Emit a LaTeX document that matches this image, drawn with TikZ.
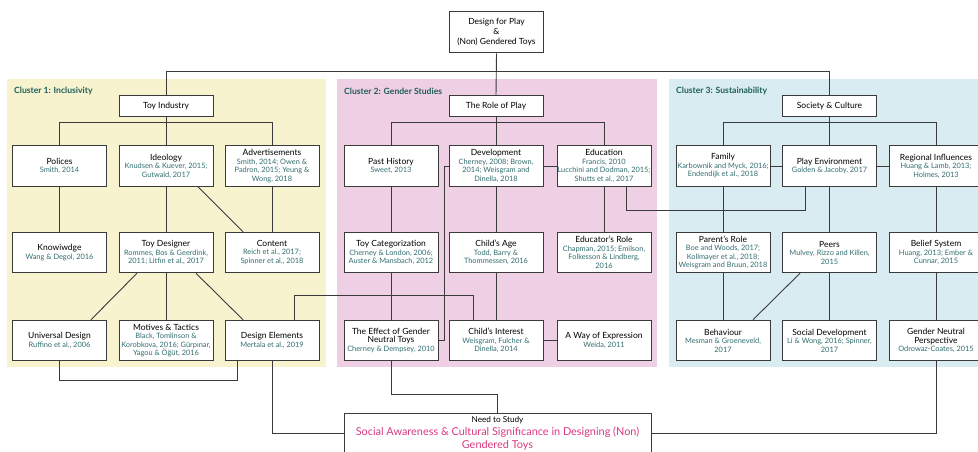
\documentclass[tikz,border=0pt]{standalone}
\usepackage{fontspec}
\setmainfont{Lato}
\usetikzlibrary{calc}
\definecolor{cone}{HTML}{F7F3CF}
\definecolor{ctwo}{HTML}{EFCFE3}
\definecolor{cthree}{HTML}{D9ECF2}
\definecolor{citec}{HTML}{336E70}
\definecolor{labc}{HTML}{1E5E58}
\definecolor{pinkc}{HTML}{D93A80}
\definecolor{linec}{HTML}{3A3A3A}
\newcommand{\ct}[1]{\makebox[0pt][c]{\color{citec}\fontsize{7.4}{8.4}\selectfont #1}}
\begin{document}
\begin{tikzpicture}[x=1pt,y=-1pt,
  box/.style={draw=linec, line width=1pt, fill=white, minimum width=94pt, minimum height=40.5pt,
    inner sep=0.5pt, align=center, font=\fontsize{8.5}{8.5}\selectfont},
  ln/.style={draw=linec, line width=0.9pt},
  clab/.style={anchor=west, inner sep=0pt, text=labc, font=\fontsize{8.6}{10}\selectfont\bfseries}]
\useasboundingbox (0,0) rectangle (978,452);
% cluster backgrounds
\fill[cone] (7,79) rectangle (326,367);
\fill[ctwo] (337,79) rectangle (657,367);
\fill[cthree] (669,79) rectangle (985,367);
\node[clab] (l1) at (14,91) {Cluster 1: Inclusivity};
\node[clab] (l2) at (344,91) {Cluster 2: Gender Studies};
\node[clab] (l3) at (676,91) {Cluster 3: Sustainability};
% nodes
\node[box, minimum height=41pt, font=\fontsize{8.5}{10}\selectfont] (top) at (496.5,32.5) {Design for Play\\\&\\(Non) Gendered Toys};
\node[box, minimum height=20pt] (ti) at (166,106) {Toy Industry};
\node[box, minimum height=20pt] (rop) at (496,106) {The Role of Play};
\node[box, minimum height=20pt] (sc) at (829.5,106) {Society \& Culture};
% cluster 1
\node[box] (pol) at (59.5,166) {Polices\\\ct{Smith, 2014}};
\node[box] (ideo) at (166,166) {Ideology\\\ct{Knudsen \& Kuever, 2015;}\\\ct{Gutwald, 2017}};
\node[box] (adv) at (272,166) {Advertisements\\\ct{Smith, 2014; Owen \&}\\\ct{Padron, 2015; Yeung \&}\\\ct{Wong, 2018}};
\node[box] (know) at (59.5,252.5) {Knowiwdge\\\ct{Wang \& Degol, 2016}};
\node[box] (td) at (166,252.5) {Toy Designer\\\ct{Rommes, Bos \& Geerdink,}\\\ct{2011; Litfin et al., 2017}};
\node[box] (cont) at (272,252.5) {Content\\\ct{Reich et al., 2017;}\\\ct{Spinner et al., 2018}};
\node[box] (ud) at (59.5,340.5) {Universal Design\\\ct{Ruffino et al., 2006}};
\node[box] (mt) at (166,340.5) {Motives \& Tactics\\\ct{Black, Tomlinson \&}\\\ct{Korobkova, 2016; Gürpınar,}\\\ct{Yagou \& Öğüt, 2016}};
\node[box] (de) at (272,340.5) {Design Elements\\\ct{Mertala et al., 2019}};
% cluster 2
\node[box] (ph) at (391,166) {Past History\\\ct{Sweet, 2013}};
\node[box] (dev) at (496,166) {Development\\\ct{Cherney, 2008; Brown,}\\\ct{2014; Weisgram and}\\\ct{Dinella, 2018}};
\node[box] (edu) at (604,166) {Education\\\ct{Francis, 2010}\\\ct{Lucchini and Dodman, 2015;}\\\ct{Shutts et al., 2017}};
\node[box] (tc) at (391,252.5) {Toy Categorization\\\ct{Cherney \& London, 2006;}\\\ct{Auster \& Mansbach, 2012}};
\node[box] (ca) at (496,252.5) {Child's Age\\\ct{Todd, Barry \&}\\\ct{Thommessen, 2016}};
\node[box] (er) at (604,252.5) {Educator's Role\\\ct{Chapman, 2015; Emilson,}\\\ct{Folkesson \& Lindberg,}\\\ct{2016}};
\node[box] (eff) at (391,340.5) {The Effect of Gender\\Neutral Toys\\\ct{Cherney \& Dempsey, 2010}};
\node[box] (ci) at (496,340.5) {Child's Interest\\\ct{Weisgram, Fulcher \&}\\\ct{Dinella, 2014}};
\node[box] (way) at (604,340.5) {A Way of Expression\\\ct{Weida, 2011}};
% cluster 3
\node[box] (fam) at (723,166) {Family\\\ct{Karbownik and Myck, 2016;}\\\ct{Endendijk et al., 2018}};
\node[box] (pe) at (829.5,166) {Play Environment\\\ct{Golden \& Jacoby, 2017}};
\node[box] (reg) at (936,166) {Regional Influences\\\ct{Huang \& Lamb, 2013;}\\\ct{Holmes, 2013}};
\node[box] (pr) at (723,252.5) {Parent's Role\\\ct{Boe and Woods, 2017;}\\\ct{Kollmayer et al., 2018;}\\\ct{Weisgram and Bruun, 2018}};
\node[box] (peer) at (829.5,252.5) {Peers\\\ct{Mulvey, Rizzo and Killen,}\\\ct{2015}};
\node[box] (bel) at (936,252.5) {Belief System\\\ct{Huang, 2013; Ember \&}\\\ct{Cunnar, 2015}};
\node[box] (beh) at (723,340.5) {Behaviour\\\ct{Mesman \& Groeneveld,}\\\ct{2017}};
\node[box] (sd) at (829.5,340.5) {Social Development\\\ct{Li \& Wong, 2016; Spinner,}\\\ct{2017}};
\node[box] (gnp) at (936,340.5) {Gender Neutral\\Perspective\\\ct{Odrowaz-Coates, 2015}};
% bottom
\node[box, minimum width=307pt, minimum height=40pt, font=\fontsize{10.9}{13}\selectfont] (bot) at (497.5,433) {{\fontsize{8.2}{9}\selectfont Need to Study}\\\textcolor{pinkc}{Social Awareness \& Cultural Significance in Designing (Non)}\\\textcolor{pinkc}{Gendered Toys}};
% connectors
\draw[ln] (top.south) -- (rop.north);
\draw[ln] (ti.north) -- ++(0,-24) -| (sc.north);
\draw[ln] (ti.south) -- (ideo.north);
\draw[ln] (pol.north) -- ++(0,-23) -| (adv.north);
\draw[ln] (pol.south) -- (know.north);
\draw[ln] (ideo.south) -- (td.north);
\draw[ln] (adv.south) -- (cont.north);
\draw[ln] ($(ideo.south)+(32,0)$) -- ($(cont.north)+(-29,0)$);
\draw[ln] ($(td.south)+(-29,0)$) -- ($(ud.north)+(31.5,0)$);
\draw[ln] (td.south) -- (mt.north);
\draw[ln] ($(td.south)+(30,0)$) -- ($(de.north)+(-29,0)$);
\draw[ln] (ud.south) -- ++(0,19) -| ($(de.south)+(-35,0)$);
\draw[ln] ($(de.north)+(22,0)$) -- ++(0,-24) -| ($(ci.north)+(-23,0)$);
\draw[ln] (de.south) |- (bot.west);
\draw[ln] (rop.south) -- (dev.north);
\draw[ln] (ph.north) -- ++(0,-23) -| (edu.north);
\draw[ln] (dev.east) -- (edu.west);
\draw[ln] (ph.south) -- (tc.north);
\draw[ln] (dev.south) -- (ca.north);
\draw[ln] (edu.south) -- (er.north);
\draw[ln] (tc.south) -- (eff.north);
\draw[ln] (ca.south) -- (ci.north);
\draw[ln] (ci.east) -- (way.west);
\draw[ln] (dev.west) -- ++(-4,0) |- (eff.east);
\draw[ln] ($(edu.south)+(22,0)$) -- ++(0,24) -| ($(pe.south)+(-24.5,0)$);
\draw[ln] (eff.south) -- ++(0,33) -| (bot.north);
\draw[ln] (sc.south) -- (pe.north);
\draw[ln] (fam.north) -- ++(0,-23) -| (reg.north);
\draw[ln] (fam.east) -- (pe.west);
\draw[ln] (pe.east) -- (reg.west);
\draw[ln] (fam.south) -- (pr.north);
\draw[ln] (pe.south) -- (peer.north);
\draw[ln] (reg.south) -- (bel.north);
\draw[ln] (pr.south) -- (beh.north);
\draw[ln] ($(peer.south)+(-29.5,0)$) -- ($(beh.north)+(30,0)$);
\draw[ln] (peer.south) -- (sd.north);
\draw[ln] (bel.south) -- (gnp.north);
\draw[ln] (gnp.south) |- (bot.east);
\end{tikzpicture}
\end{document}
